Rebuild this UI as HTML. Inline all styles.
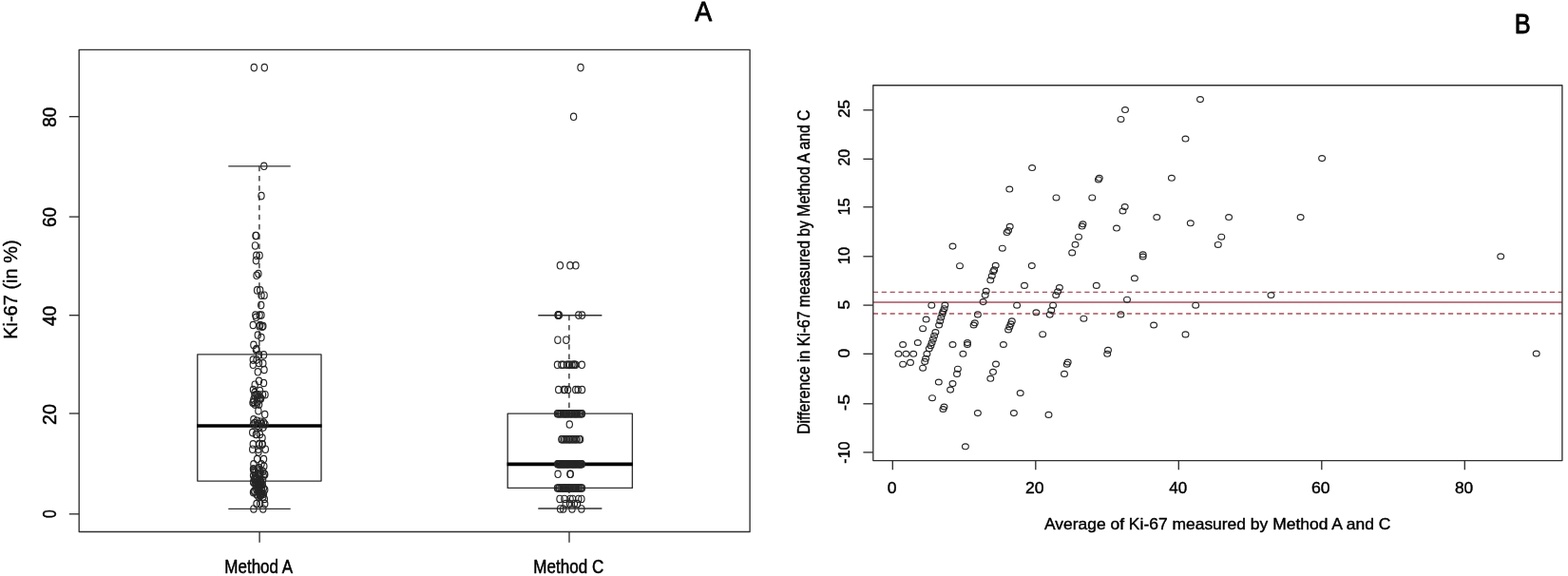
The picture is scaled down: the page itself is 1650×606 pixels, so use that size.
<!DOCTYPE html>
<html lang="en">
<head>
<meta charset="utf-8">
<title>Ki-67 Method A vs Method C</title>
<style>
html,body{margin:0;padding:0;background:#fff;}
body{width:1650px;height:606px;overflow:hidden;}
svg{display:block;font-family:"Liberation Sans",Arial,Helvetica,sans-serif;}
</style>
</head>
<body>
<svg width="1650" height="606" viewBox="0 0 1650 606">
<rect x="0" y="0" width="1650" height="606" fill="#ffffff"/>
<g id="plotA">
<rect x="83.20" y="52.30" width="705.90" height="507.20" fill="none" stroke="#303030" stroke-width="1.35" stroke-linejoin="round"/>
<line x1="72.80" y1="540.80" x2="83.20" y2="540.80" stroke="#303030" stroke-width="1.35" stroke-linecap="butt"/>
<text transform="translate(58.90,540.60) rotate(-90) scale(0.7543,1)" x="-5.80" y="0" font-size="20.71" fill="#000" stroke="#000" stroke-width="0.5" stroke-linejoin="round">0</text>
<line x1="72.80" y1="435.00" x2="83.20" y2="435.00" stroke="#303030" stroke-width="1.35" stroke-linecap="butt"/>
<text transform="translate(58.90,435.75) rotate(-90) scale(0.9466,1)" x="-11.81" y="0" font-size="20.71" fill="#000" stroke="#000" stroke-width="0.5" stroke-linejoin="round">20</text>
<line x1="72.80" y1="331.70" x2="83.20" y2="331.70" stroke="#303030" stroke-width="1.35" stroke-linecap="butt"/>
<text transform="translate(58.90,332.60) rotate(-90) scale(0.9245,1)" x="-11.39" y="0" font-size="20.71" fill="#000" stroke="#000" stroke-width="0.5" stroke-linejoin="round">40</text>
<line x1="72.80" y1="228.10" x2="83.20" y2="228.10" stroke="#303030" stroke-width="1.35" stroke-linecap="butt"/>
<text transform="translate(58.90,228.20) rotate(-90) scale(0.9087,1)" x="-11.81" y="0" font-size="20.71" fill="#000" stroke="#000" stroke-width="0.5" stroke-linejoin="round">60</text>
<line x1="72.80" y1="122.70" x2="83.20" y2="122.70" stroke="#303030" stroke-width="1.35" stroke-linecap="butt"/>
<text transform="translate(58.90,123.10) rotate(-90) scale(0.9145,1)" x="-11.60" y="0" font-size="20.71" fill="#000" stroke="#000" stroke-width="0.5" stroke-linejoin="round">80</text>
<text transform="translate(18.40,304.40) rotate(-90) scale(0.9879,1)" x="-53.15" y="0" font-size="20.29" fill="#000" stroke="#000" stroke-width="0.4" stroke-linejoin="round">Ki-67 (in %)</text>
<line x1="273.10" y1="559.50" x2="273.10" y2="570.70" stroke="#303030" stroke-width="1.35" stroke-linecap="butt"/>
<text transform="translate(272.90,603.20) scale(0.8701,1)" x="-42.08" y="0" font-size="19.57" fill="#000" stroke="#000" stroke-width="0.5" stroke-linejoin="round">Method A</text>
<line x1="599.00" y1="559.50" x2="599.00" y2="570.70" stroke="#303030" stroke-width="1.35" stroke-linecap="butt"/>
<text transform="translate(598.60,603.20) scale(0.8730,1)" x="-42.86" y="0" font-size="19.57" fill="#000" stroke="#000" stroke-width="0.5" stroke-linejoin="round">Method C</text>
<text transform="translate(740.10,22.20) scale(0.8939,1)" x="-9.90" y="0" font-size="30.00" fill="#000" stroke="#000" stroke-width="0.9" stroke-linejoin="round">A</text>
<line x1="272.90" y1="174.85" x2="272.90" y2="372.90" stroke="#303030" stroke-width="1.35" stroke-dasharray="5.5 4.7" stroke-linecap="butt"/>
<line x1="272.90" y1="506.10" x2="272.90" y2="535.30" stroke="#303030" stroke-width="1.35" stroke-dasharray="5.5 4.7" stroke-linecap="butt"/>
<line x1="240.30" y1="174.85" x2="305.70" y2="174.85" stroke="#303030" stroke-width="1.35" stroke-linecap="butt"/>
<line x1="240.30" y1="535.30" x2="305.70" y2="535.30" stroke="#303030" stroke-width="1.35" stroke-linecap="butt"/>
<rect x="207.80" y="372.90" width="130.20" height="133.20" fill="none" stroke="#303030" stroke-width="1.35" stroke-linejoin="round"/>
<line x1="207.20" y1="448.00" x2="338.60" y2="448.00" stroke="#000" stroke-width="3.6" stroke-linecap="butt"/>
<line x1="598.90" y1="331.70" x2="598.90" y2="435.10" stroke="#303030" stroke-width="1.35" stroke-dasharray="5.5 4.7" stroke-linecap="butt"/>
<line x1="598.90" y1="513.40" x2="598.90" y2="535.00" stroke="#303030" stroke-width="1.35" stroke-dasharray="5.5 4.7" stroke-linecap="butt"/>
<line x1="566.30" y1="331.70" x2="633.40" y2="331.70" stroke="#303030" stroke-width="1.35" stroke-linecap="butt"/>
<line x1="566.30" y1="535.00" x2="633.40" y2="535.00" stroke="#303030" stroke-width="1.35" stroke-linecap="butt"/>
<rect x="534.20" y="435.10" width="131.20" height="78.30" fill="none" stroke="#303030" stroke-width="1.35" stroke-linejoin="round"/>
<line x1="533.60" y1="488.40" x2="666.00" y2="488.40" stroke="#000" stroke-width="3.6" stroke-linecap="butt"/>
<g fill="none" stroke="#262626" stroke-width="1.15">
<ellipse cx="267.3" cy="71.1" rx="3.15" ry="3.7"/>
<ellipse cx="278.3" cy="71.1" rx="3.15" ry="3.7"/>
<ellipse cx="277.8" cy="174.8" rx="3.15" ry="3.7"/>
<ellipse cx="275.0" cy="206.1" rx="3.15" ry="3.7"/>
<ellipse cx="269.0" cy="247.9" rx="3.15" ry="3.7"/>
<ellipse cx="269.6" cy="247.9" rx="3.15" ry="3.7"/>
<ellipse cx="268.5" cy="258.4" rx="3.15" ry="3.7"/>
<ellipse cx="269.8" cy="268.8" rx="3.15" ry="3.7"/>
<ellipse cx="273.1" cy="268.8" rx="3.15" ry="3.7"/>
<ellipse cx="269.4" cy="274.1" rx="3.15" ry="3.7"/>
<ellipse cx="271.9" cy="288.1" rx="3.15" ry="3.7"/>
<ellipse cx="270.0" cy="289.8" rx="3.15" ry="3.7"/>
<ellipse cx="270.6" cy="305.4" rx="3.15" ry="3.7"/>
<ellipse cx="273.7" cy="305.4" rx="3.15" ry="3.7"/>
<ellipse cx="275.0" cy="310.7" rx="3.15" ry="3.7"/>
<ellipse cx="278.1" cy="310.7" rx="3.15" ry="3.7"/>
<ellipse cx="274.7" cy="321.1" rx="3.15" ry="3.7"/>
<ellipse cx="268.8" cy="331.6" rx="3.15" ry="3.7"/>
<ellipse cx="273.1" cy="331.6" rx="3.15" ry="3.7"/>
<ellipse cx="275.0" cy="331.6" rx="3.15" ry="3.7"/>
<ellipse cx="269.5" cy="333.8" rx="3.15" ry="3.7"/>
<ellipse cx="266.3" cy="342.0" rx="3.15" ry="3.7"/>
<ellipse cx="273.7" cy="342.0" rx="3.15" ry="3.7"/>
<ellipse cx="276.8" cy="343.0" rx="3.15" ry="3.7"/>
<ellipse cx="273.0" cy="343.2" rx="3.15" ry="3.7"/>
<ellipse cx="276.0" cy="343.7" rx="3.15" ry="3.7"/>
<ellipse cx="271.3" cy="352.5" rx="3.15" ry="3.7"/>
<ellipse cx="275.0" cy="355.1" rx="3.15" ry="3.7"/>
<ellipse cx="266.9" cy="362.9" rx="3.15" ry="3.7"/>
<ellipse cx="270.0" cy="367.0" rx="3.15" ry="3.7"/>
<ellipse cx="269.4" cy="368.1" rx="3.15" ry="3.7"/>
<ellipse cx="277.5" cy="373.4" rx="3.15" ry="3.7"/>
<ellipse cx="272.5" cy="373.4" rx="3.15" ry="3.7"/>
<ellipse cx="270.0" cy="378.6" rx="3.15" ry="3.7"/>
<ellipse cx="266.3" cy="378.6" rx="3.15" ry="3.7"/>
<ellipse cx="272.5" cy="382.0" rx="3.15" ry="3.7"/>
<ellipse cx="276.8" cy="382.3" rx="3.15" ry="3.7"/>
<ellipse cx="266.3" cy="383.8" rx="3.15" ry="3.7"/>
<ellipse cx="278.0" cy="389.0" rx="3.15" ry="3.7"/>
<ellipse cx="271.3" cy="391.3" rx="3.15" ry="3.7"/>
<ellipse cx="272.5" cy="400.9" rx="3.15" ry="3.7"/>
<ellipse cx="277.5" cy="403.0" rx="3.15" ry="3.7"/>
<ellipse cx="268.2" cy="404.7" rx="3.15" ry="3.7"/>
<ellipse cx="266.5" cy="410.0" rx="3.15" ry="3.7"/>
<ellipse cx="273.5" cy="411.1" rx="3.15" ry="3.7"/>
<ellipse cx="268.0" cy="413.1" rx="3.15" ry="3.7"/>
<ellipse cx="272.0" cy="415.2" rx="3.15" ry="3.7"/>
<ellipse cx="276.5" cy="415.2" rx="3.15" ry="3.7"/>
<ellipse cx="279.0" cy="415.2" rx="3.15" ry="3.7"/>
<ellipse cx="270.0" cy="415.2" rx="3.15" ry="3.7"/>
<ellipse cx="270.2" cy="415.4" rx="3.15" ry="3.7"/>
<ellipse cx="268.0" cy="415.9" rx="3.15" ry="3.7"/>
<ellipse cx="271.0" cy="418.2" rx="3.15" ry="3.7"/>
<ellipse cx="274.0" cy="418.6" rx="3.15" ry="3.7"/>
<ellipse cx="274.5" cy="419.4" rx="3.15" ry="3.7"/>
<ellipse cx="266.9" cy="420.4" rx="3.15" ry="3.7"/>
<ellipse cx="273.0" cy="420.4" rx="3.15" ry="3.7"/>
<ellipse cx="270.8" cy="422.6" rx="3.15" ry="3.7"/>
<ellipse cx="266.8" cy="422.9" rx="3.15" ry="3.7"/>
<ellipse cx="266.0" cy="423.7" rx="3.15" ry="3.7"/>
<ellipse cx="270.5" cy="424.7" rx="3.15" ry="3.7"/>
<ellipse cx="268.2" cy="425.6" rx="3.15" ry="3.7"/>
<ellipse cx="272.6" cy="425.6" rx="3.15" ry="3.7"/>
<ellipse cx="271.9" cy="432.2" rx="3.15" ry="3.7"/>
<ellipse cx="278.7" cy="436.1" rx="3.15" ry="3.7"/>
<ellipse cx="266.9" cy="441.3" rx="3.15" ry="3.7"/>
<ellipse cx="270.5" cy="442.7" rx="3.15" ry="3.7"/>
<ellipse cx="274.4" cy="443.7" rx="3.15" ry="3.7"/>
<ellipse cx="277.5" cy="444.6" rx="3.15" ry="3.7"/>
<ellipse cx="268.0" cy="445.0" rx="3.15" ry="3.7"/>
<ellipse cx="272.0" cy="446.0" rx="3.15" ry="3.7"/>
<ellipse cx="275.5" cy="446.0" rx="3.15" ry="3.7"/>
<ellipse cx="279.0" cy="446.5" rx="3.15" ry="3.7"/>
<ellipse cx="266.5" cy="446.5" rx="3.15" ry="3.7"/>
<ellipse cx="270.8" cy="448.0" rx="3.15" ry="3.7"/>
<ellipse cx="273.0" cy="449.2" rx="3.15" ry="3.7"/>
<ellipse cx="277.0" cy="449.6" rx="3.15" ry="3.7"/>
<ellipse cx="265.7" cy="455.1" rx="3.15" ry="3.7"/>
<ellipse cx="270.0" cy="457.0" rx="3.15" ry="3.7"/>
<ellipse cx="269.4" cy="457.0" rx="3.15" ry="3.7"/>
<ellipse cx="273.5" cy="457.0" rx="3.15" ry="3.7"/>
<ellipse cx="276.0" cy="460.8" rx="3.15" ry="3.7"/>
<ellipse cx="266.3" cy="467.4" rx="3.15" ry="3.7"/>
<ellipse cx="272.5" cy="467.4" rx="3.15" ry="3.7"/>
<ellipse cx="276.2" cy="467.4" rx="3.15" ry="3.7"/>
<ellipse cx="272.9" cy="467.4" rx="3.15" ry="3.7"/>
<ellipse cx="276.0" cy="467.4" rx="3.15" ry="3.7"/>
<ellipse cx="279.3" cy="472.7" rx="3.15" ry="3.7"/>
<ellipse cx="271.9" cy="472.7" rx="3.15" ry="3.7"/>
<ellipse cx="265.7" cy="472.7" rx="3.15" ry="3.7"/>
<ellipse cx="272.0" cy="475.6" rx="3.15" ry="3.7"/>
<ellipse cx="270.6" cy="483.1" rx="3.15" ry="3.7"/>
<ellipse cx="277.5" cy="483.1" rx="3.15" ry="3.7"/>
<ellipse cx="266.9" cy="488.3" rx="3.15" ry="3.7"/>
<ellipse cx="275.0" cy="488.3" rx="3.15" ry="3.7"/>
<ellipse cx="277.8" cy="490.5" rx="3.15" ry="3.7"/>
<ellipse cx="272.6" cy="492.1" rx="3.15" ry="3.7"/>
<ellipse cx="266.5" cy="493.6" rx="3.15" ry="3.7"/>
<ellipse cx="271.6" cy="493.6" rx="3.15" ry="3.7"/>
<ellipse cx="266.9" cy="493.6" rx="3.15" ry="3.7"/>
<ellipse cx="267.2" cy="495.2" rx="3.15" ry="3.7"/>
<ellipse cx="271.5" cy="495.6" rx="3.15" ry="3.7"/>
<ellipse cx="276.7" cy="496.1" rx="3.15" ry="3.7"/>
<ellipse cx="267.6" cy="496.6" rx="3.15" ry="3.7"/>
<ellipse cx="268.9" cy="497.1" rx="3.15" ry="3.7"/>
<ellipse cx="274.2" cy="497.2" rx="3.15" ry="3.7"/>
<ellipse cx="278.3" cy="498.8" rx="3.15" ry="3.7"/>
<ellipse cx="273.5" cy="498.8" rx="3.15" ry="3.7"/>
<ellipse cx="271.2" cy="498.8" rx="3.15" ry="3.7"/>
<ellipse cx="278.7" cy="499.3" rx="3.15" ry="3.7"/>
<ellipse cx="266.6" cy="500.2" rx="3.15" ry="3.7"/>
<ellipse cx="277.2" cy="500.7" rx="3.15" ry="3.7"/>
<ellipse cx="269.8" cy="503.1" rx="3.15" ry="3.7"/>
<ellipse cx="267.9" cy="503.3" rx="3.15" ry="3.7"/>
<ellipse cx="267.5" cy="504.0" rx="3.15" ry="3.7"/>
<ellipse cx="270.0" cy="504.4" rx="3.15" ry="3.7"/>
<ellipse cx="276.6" cy="505.0" rx="3.15" ry="3.7"/>
<ellipse cx="268.3" cy="505.0" rx="3.15" ry="3.7"/>
<ellipse cx="273.6" cy="505.4" rx="3.15" ry="3.7"/>
<ellipse cx="274.3" cy="506.1" rx="3.15" ry="3.7"/>
<ellipse cx="270.8" cy="506.7" rx="3.15" ry="3.7"/>
<ellipse cx="273.1" cy="506.9" rx="3.15" ry="3.7"/>
<ellipse cx="266.8" cy="506.9" rx="3.15" ry="3.7"/>
<ellipse cx="266.8" cy="507.7" rx="3.15" ry="3.7"/>
<ellipse cx="268.7" cy="507.7" rx="3.15" ry="3.7"/>
<ellipse cx="274.8" cy="508.1" rx="3.15" ry="3.7"/>
<ellipse cx="271.6" cy="508.3" rx="3.15" ry="3.7"/>
<ellipse cx="270.1" cy="509.2" rx="3.15" ry="3.7"/>
<ellipse cx="273.6" cy="509.4" rx="3.15" ry="3.7"/>
<ellipse cx="271.9" cy="509.4" rx="3.15" ry="3.7"/>
<ellipse cx="269.9" cy="509.7" rx="3.15" ry="3.7"/>
<ellipse cx="276.3" cy="510.0" rx="3.15" ry="3.7"/>
<ellipse cx="275.1" cy="510.3" rx="3.15" ry="3.7"/>
<ellipse cx="269.2" cy="511.6" rx="3.15" ry="3.7"/>
<ellipse cx="273.5" cy="511.9" rx="3.15" ry="3.7"/>
<ellipse cx="272.8" cy="511.9" rx="3.15" ry="3.7"/>
<ellipse cx="277.4" cy="513.7" rx="3.15" ry="3.7"/>
<ellipse cx="275.5" cy="514.5" rx="3.15" ry="3.7"/>
<ellipse cx="269.7" cy="514.5" rx="3.15" ry="3.7"/>
<ellipse cx="278.7" cy="515.3" rx="3.15" ry="3.7"/>
<ellipse cx="267.5" cy="516.7" rx="3.15" ry="3.7"/>
<ellipse cx="271.4" cy="516.8" rx="3.15" ry="3.7"/>
<ellipse cx="275.8" cy="516.9" rx="3.15" ry="3.7"/>
<ellipse cx="268.0" cy="517.2" rx="3.15" ry="3.7"/>
<ellipse cx="272.4" cy="517.6" rx="3.15" ry="3.7"/>
<ellipse cx="266.5" cy="518.1" rx="3.15" ry="3.7"/>
<ellipse cx="274.7" cy="518.8" rx="3.15" ry="3.7"/>
<ellipse cx="275.9" cy="519.3" rx="3.15" ry="3.7"/>
<ellipse cx="273.4" cy="519.4" rx="3.15" ry="3.7"/>
<ellipse cx="277.4" cy="519.7" rx="3.15" ry="3.7"/>
<ellipse cx="270.1" cy="520.2" rx="3.15" ry="3.7"/>
<ellipse cx="275.0" cy="520.7" rx="3.15" ry="3.7"/>
<ellipse cx="273.7" cy="521.0" rx="3.15" ry="3.7"/>
<ellipse cx="273.5" cy="521.4" rx="3.15" ry="3.7"/>
<ellipse cx="271.9" cy="522.2" rx="3.15" ry="3.7"/>
<ellipse cx="276.9" cy="522.5" rx="3.15" ry="3.7"/>
<ellipse cx="278.3" cy="524.9" rx="3.15" ry="3.7"/>
<ellipse cx="270.0" cy="530.1" rx="3.15" ry="3.7"/>
<ellipse cx="273.7" cy="530.1" rx="3.15" ry="3.7"/>
<ellipse cx="278.7" cy="530.1" rx="3.15" ry="3.7"/>
<ellipse cx="266.9" cy="535.4" rx="3.15" ry="3.7"/>
<ellipse cx="276.8" cy="535.4" rx="3.15" ry="3.7"/>
<ellipse cx="589.6" cy="535.4" rx="3.15" ry="3.7"/>
<ellipse cx="592.7" cy="535.4" rx="3.15" ry="3.7"/>
<ellipse cx="602.0" cy="535.4" rx="3.15" ry="3.7"/>
<ellipse cx="611.9" cy="535.4" rx="3.15" ry="3.7"/>
<ellipse cx="595.2" cy="530.1" rx="3.15" ry="3.7"/>
<ellipse cx="599.5" cy="530.1" rx="3.15" ry="3.7"/>
<ellipse cx="604.5" cy="530.1" rx="3.15" ry="3.7"/>
<ellipse cx="607.5" cy="530.1" rx="3.15" ry="3.7"/>
<ellipse cx="589.0" cy="524.9" rx="3.15" ry="3.7"/>
<ellipse cx="593.9" cy="524.9" rx="3.15" ry="3.7"/>
<ellipse cx="600.1" cy="524.9" rx="3.15" ry="3.7"/>
<ellipse cx="602.6" cy="524.9" rx="3.15" ry="3.7"/>
<ellipse cx="608.8" cy="524.9" rx="3.15" ry="3.7"/>
<ellipse cx="611.9" cy="524.9" rx="3.15" ry="3.7"/>
<ellipse cx="586.5" cy="513.4" rx="3.15" ry="3.7"/>
<ellipse cx="587.7" cy="513.4" rx="3.15" ry="3.7"/>
<ellipse cx="588.5" cy="513.4" rx="3.15" ry="3.7"/>
<ellipse cx="590.0" cy="513.4" rx="3.15" ry="3.7"/>
<ellipse cx="591.1" cy="513.4" rx="3.15" ry="3.7"/>
<ellipse cx="592.5" cy="513.4" rx="3.15" ry="3.7"/>
<ellipse cx="593.5" cy="513.4" rx="3.15" ry="3.7"/>
<ellipse cx="594.3" cy="513.4" rx="3.15" ry="3.7"/>
<ellipse cx="595.5" cy="513.4" rx="3.15" ry="3.7"/>
<ellipse cx="596.8" cy="513.4" rx="3.15" ry="3.7"/>
<ellipse cx="597.5" cy="513.4" rx="3.15" ry="3.7"/>
<ellipse cx="598.9" cy="513.4" rx="3.15" ry="3.7"/>
<ellipse cx="599.8" cy="513.4" rx="3.15" ry="3.7"/>
<ellipse cx="600.9" cy="513.4" rx="3.15" ry="3.7"/>
<ellipse cx="602.0" cy="513.4" rx="3.15" ry="3.7"/>
<ellipse cx="603.6" cy="513.4" rx="3.15" ry="3.7"/>
<ellipse cx="604.3" cy="513.4" rx="3.15" ry="3.7"/>
<ellipse cx="605.5" cy="513.4" rx="3.15" ry="3.7"/>
<ellipse cx="606.8" cy="513.4" rx="3.15" ry="3.7"/>
<ellipse cx="608.2" cy="513.4" rx="3.15" ry="3.7"/>
<ellipse cx="608.8" cy="513.4" rx="3.15" ry="3.7"/>
<ellipse cx="610.2" cy="513.4" rx="3.15" ry="3.7"/>
<ellipse cx="611.4" cy="513.4" rx="3.15" ry="3.7"/>
<ellipse cx="612.5" cy="513.4" rx="3.15" ry="3.7"/>
<ellipse cx="587.1" cy="498.8" rx="3.15" ry="3.7"/>
<ellipse cx="599.9" cy="498.8" rx="3.15" ry="3.7"/>
<ellipse cx="600.3" cy="498.8" rx="3.15" ry="3.7"/>
<ellipse cx="586.7" cy="488.3" rx="3.15" ry="3.7"/>
<ellipse cx="587.6" cy="488.3" rx="3.15" ry="3.7"/>
<ellipse cx="588.1" cy="488.3" rx="3.15" ry="3.7"/>
<ellipse cx="589.1" cy="488.3" rx="3.15" ry="3.7"/>
<ellipse cx="589.9" cy="488.3" rx="3.15" ry="3.7"/>
<ellipse cx="591.0" cy="488.3" rx="3.15" ry="3.7"/>
<ellipse cx="591.9" cy="488.3" rx="3.15" ry="3.7"/>
<ellipse cx="592.4" cy="488.3" rx="3.15" ry="3.7"/>
<ellipse cx="593.3" cy="488.3" rx="3.15" ry="3.7"/>
<ellipse cx="594.2" cy="488.3" rx="3.15" ry="3.7"/>
<ellipse cx="595.0" cy="488.3" rx="3.15" ry="3.7"/>
<ellipse cx="596.0" cy="488.3" rx="3.15" ry="3.7"/>
<ellipse cx="596.9" cy="488.3" rx="3.15" ry="3.7"/>
<ellipse cx="597.6" cy="488.3" rx="3.15" ry="3.7"/>
<ellipse cx="598.4" cy="488.3" rx="3.15" ry="3.7"/>
<ellipse cx="599.5" cy="488.3" rx="3.15" ry="3.7"/>
<ellipse cx="600.3" cy="488.3" rx="3.15" ry="3.7"/>
<ellipse cx="601.3" cy="488.3" rx="3.15" ry="3.7"/>
<ellipse cx="602.3" cy="488.3" rx="3.15" ry="3.7"/>
<ellipse cx="603.1" cy="488.3" rx="3.15" ry="3.7"/>
<ellipse cx="603.8" cy="488.3" rx="3.15" ry="3.7"/>
<ellipse cx="604.8" cy="488.3" rx="3.15" ry="3.7"/>
<ellipse cx="605.7" cy="488.3" rx="3.15" ry="3.7"/>
<ellipse cx="606.2" cy="488.3" rx="3.15" ry="3.7"/>
<ellipse cx="607.5" cy="488.3" rx="3.15" ry="3.7"/>
<ellipse cx="608.3" cy="488.3" rx="3.15" ry="3.7"/>
<ellipse cx="609.2" cy="488.3" rx="3.15" ry="3.7"/>
<ellipse cx="610.1" cy="488.3" rx="3.15" ry="3.7"/>
<ellipse cx="610.7" cy="488.3" rx="3.15" ry="3.7"/>
<ellipse cx="611.6" cy="488.3" rx="3.15" ry="3.7"/>
<ellipse cx="612.3" cy="488.3" rx="3.15" ry="3.7"/>
<ellipse cx="590.9" cy="462.2" rx="3.15" ry="3.7"/>
<ellipse cx="591.9" cy="462.2" rx="3.15" ry="3.7"/>
<ellipse cx="593.5" cy="462.2" rx="3.15" ry="3.7"/>
<ellipse cx="595.1" cy="462.2" rx="3.15" ry="3.7"/>
<ellipse cx="596.6" cy="462.2" rx="3.15" ry="3.7"/>
<ellipse cx="598.3" cy="462.2" rx="3.15" ry="3.7"/>
<ellipse cx="599.5" cy="462.2" rx="3.15" ry="3.7"/>
<ellipse cx="601.0" cy="462.2" rx="3.15" ry="3.7"/>
<ellipse cx="602.7" cy="462.2" rx="3.15" ry="3.7"/>
<ellipse cx="604.1" cy="462.2" rx="3.15" ry="3.7"/>
<ellipse cx="605.9" cy="462.2" rx="3.15" ry="3.7"/>
<ellipse cx="607.1" cy="462.2" rx="3.15" ry="3.7"/>
<ellipse cx="609.4" cy="462.2" rx="3.15" ry="3.7"/>
<ellipse cx="610.6" cy="462.2" rx="3.15" ry="3.7"/>
<ellipse cx="599.3" cy="446.5" rx="3.15" ry="3.7"/>
<ellipse cx="586.5" cy="435.2" rx="3.15" ry="3.7"/>
<ellipse cx="587.4" cy="435.2" rx="3.15" ry="3.7"/>
<ellipse cx="588.6" cy="435.2" rx="3.15" ry="3.7"/>
<ellipse cx="589.7" cy="435.2" rx="3.15" ry="3.7"/>
<ellipse cx="590.6" cy="435.2" rx="3.15" ry="3.7"/>
<ellipse cx="592.1" cy="435.2" rx="3.15" ry="3.7"/>
<ellipse cx="593.3" cy="435.2" rx="3.15" ry="3.7"/>
<ellipse cx="594.1" cy="435.2" rx="3.15" ry="3.7"/>
<ellipse cx="595.2" cy="435.2" rx="3.15" ry="3.7"/>
<ellipse cx="596.0" cy="435.2" rx="3.15" ry="3.7"/>
<ellipse cx="597.1" cy="435.2" rx="3.15" ry="3.7"/>
<ellipse cx="598.3" cy="435.2" rx="3.15" ry="3.7"/>
<ellipse cx="599.3" cy="435.2" rx="3.15" ry="3.7"/>
<ellipse cx="600.8" cy="435.2" rx="3.15" ry="3.7"/>
<ellipse cx="601.4" cy="435.2" rx="3.15" ry="3.7"/>
<ellipse cx="602.4" cy="435.2" rx="3.15" ry="3.7"/>
<ellipse cx="604.1" cy="435.2" rx="3.15" ry="3.7"/>
<ellipse cx="604.9" cy="435.2" rx="3.15" ry="3.7"/>
<ellipse cx="605.8" cy="435.2" rx="3.15" ry="3.7"/>
<ellipse cx="607.1" cy="435.2" rx="3.15" ry="3.7"/>
<ellipse cx="607.9" cy="435.2" rx="3.15" ry="3.7"/>
<ellipse cx="609.3" cy="435.2" rx="3.15" ry="3.7"/>
<ellipse cx="610.6" cy="435.2" rx="3.15" ry="3.7"/>
<ellipse cx="611.7" cy="435.2" rx="3.15" ry="3.7"/>
<ellipse cx="612.5" cy="435.2" rx="3.15" ry="3.7"/>
<ellipse cx="587.7" cy="410.0" rx="3.15" ry="3.7"/>
<ellipse cx="593.3" cy="410.0" rx="3.15" ry="3.7"/>
<ellipse cx="597.6" cy="410.0" rx="3.15" ry="3.7"/>
<ellipse cx="605.7" cy="410.0" rx="3.15" ry="3.7"/>
<ellipse cx="608.2" cy="410.0" rx="3.15" ry="3.7"/>
<ellipse cx="612.5" cy="410.0" rx="3.15" ry="3.7"/>
<ellipse cx="594.5" cy="410.0" rx="3.15" ry="3.7"/>
<ellipse cx="586.5" cy="383.8" rx="3.15" ry="3.7"/>
<ellipse cx="590.8" cy="383.8" rx="3.15" ry="3.7"/>
<ellipse cx="592.7" cy="383.8" rx="3.15" ry="3.7"/>
<ellipse cx="596.4" cy="383.8" rx="3.15" ry="3.7"/>
<ellipse cx="598.3" cy="383.8" rx="3.15" ry="3.7"/>
<ellipse cx="602.0" cy="383.8" rx="3.15" ry="3.7"/>
<ellipse cx="603.8" cy="383.8" rx="3.15" ry="3.7"/>
<ellipse cx="605.7" cy="383.8" rx="3.15" ry="3.7"/>
<ellipse cx="612.3" cy="383.8" rx="3.15" ry="3.7"/>
<ellipse cx="599.5" cy="383.8" rx="3.15" ry="3.7"/>
<ellipse cx="604.5" cy="383.8" rx="3.15" ry="3.7"/>
<ellipse cx="586.9" cy="357.7" rx="3.15" ry="3.7"/>
<ellipse cx="595.8" cy="357.7" rx="3.15" ry="3.7"/>
<ellipse cx="587.1" cy="331.6" rx="3.15" ry="3.7"/>
<ellipse cx="587.6" cy="331.6" rx="3.15" ry="3.7"/>
<ellipse cx="588.4" cy="331.6" rx="3.15" ry="3.7"/>
<ellipse cx="608.8" cy="331.6" rx="3.15" ry="3.7"/>
<ellipse cx="612.5" cy="331.6" rx="3.15" ry="3.7"/>
<ellipse cx="587.3" cy="331.6" rx="3.15" ry="3.7"/>
<ellipse cx="589.4" cy="279.3" rx="3.15" ry="3.7"/>
<ellipse cx="599.9" cy="279.3" rx="3.15" ry="3.7"/>
<ellipse cx="605.9" cy="279.3" rx="3.15" ry="3.7"/>
<ellipse cx="603.6" cy="122.8" rx="3.15" ry="3.7"/>
<ellipse cx="611.0" cy="71.1" rx="3.15" ry="3.7"/>
</g>
</g>
<g id="plotB">
<line x1="918.80" y1="318.00" x2="1643.90" y2="318.00" stroke="#a5525f" stroke-width="1.3" stroke-linecap="butt"/>
<line x1="918.80" y1="307.30" x2="1643.90" y2="307.30" stroke="#a5525f" stroke-width="1.3" stroke-dasharray="5.2 3.7" stroke-linecap="butt"/>
<line x1="918.80" y1="330.00" x2="1643.90" y2="330.00" stroke="#a5525f" stroke-width="1.3" stroke-dasharray="5.2 3.7" stroke-linecap="butt"/>
<rect x="918.80" y="89.70" width="725.10" height="394.90" fill="none" stroke="#303030" stroke-width="1.35" stroke-linejoin="round"/>
<line x1="939.30" y1="484.60" x2="939.30" y2="494.20" stroke="#303030" stroke-width="1.35" stroke-linecap="butt"/>
<text transform="translate(938.60,518.60) scale(1.0841,1)" x="-4.52" y="0" font-size="16.14" fill="#000" stroke="#000" stroke-width="0.4" stroke-linejoin="round">0</text>
<line x1="1089.80" y1="484.60" x2="1089.80" y2="494.20" stroke="#303030" stroke-width="1.35" stroke-linecap="butt"/>
<text transform="translate(1089.10,518.60) scale(1.0932,1)" x="-9.20" y="0" font-size="16.14" fill="#000" stroke="#000" stroke-width="0.4" stroke-linejoin="round">20</text>
<line x1="1240.30" y1="484.60" x2="1240.30" y2="494.20" stroke="#303030" stroke-width="1.35" stroke-linecap="butt"/>
<text transform="translate(1239.60,518.60) scale(1.0519,1)" x="-8.88" y="0" font-size="16.14" fill="#000" stroke="#000" stroke-width="0.4" stroke-linejoin="round">40</text>
<line x1="1390.80" y1="484.60" x2="1390.80" y2="494.20" stroke="#303030" stroke-width="1.35" stroke-linecap="butt"/>
<text transform="translate(1390.10,518.60) scale(1.0932,1)" x="-9.20" y="0" font-size="16.14" fill="#000" stroke="#000" stroke-width="0.4" stroke-linejoin="round">60</text>
<line x1="1541.30" y1="484.60" x2="1541.30" y2="494.20" stroke="#303030" stroke-width="1.35" stroke-linecap="butt"/>
<text transform="translate(1540.60,518.60) scale(1.0722,1)" x="-9.04" y="0" font-size="16.14" fill="#000" stroke="#000" stroke-width="0.4" stroke-linejoin="round">80</text>
<line x1="908.40" y1="475.90" x2="918.80" y2="475.90" stroke="#303030" stroke-width="1.35" stroke-linecap="butt"/>
<text transform="translate(893.70,476.10) rotate(-90) scale(0.9802,1)" x="-11.83" y="0" font-size="16.43" fill="#000" stroke="#000" stroke-width="0.4" stroke-linejoin="round">-10</text>
<line x1="908.40" y1="424.80" x2="918.80" y2="424.80" stroke="#303030" stroke-width="1.35" stroke-linecap="butt"/>
<text transform="translate(893.70,423.60) rotate(-90) scale(1.1870,1)" x="-7.23" y="0" font-size="16.43" fill="#000" stroke="#000" stroke-width="0.4" stroke-linejoin="round">-5</text>
<line x1="908.40" y1="372.30" x2="918.80" y2="372.30" stroke="#303030" stroke-width="1.35" stroke-linecap="butt"/>
<text transform="translate(893.70,371.60) rotate(-90) scale(1.0652,1)" x="-4.60" y="0" font-size="16.43" fill="#000" stroke="#000" stroke-width="0.4" stroke-linejoin="round">0</text>
<line x1="908.40" y1="321.10" x2="918.80" y2="321.10" stroke="#303030" stroke-width="1.35" stroke-linecap="butt"/>
<text transform="translate(893.70,320.50) rotate(-90) scale(1.0652,1)" x="-4.60" y="0" font-size="16.43" fill="#000" stroke="#000" stroke-width="0.4" stroke-linejoin="round">5</text>
<line x1="908.40" y1="269.80" x2="918.80" y2="269.80" stroke="#303030" stroke-width="1.35" stroke-linecap="butt"/>
<text transform="translate(893.70,268.70) rotate(-90) scale(1.0104,1)" x="-9.53" y="0" font-size="16.43" fill="#000" stroke="#000" stroke-width="0.4" stroke-linejoin="round">10</text>
<line x1="908.40" y1="217.80" x2="918.80" y2="217.80" stroke="#303030" stroke-width="1.35" stroke-linecap="butt"/>
<text transform="translate(893.70,217.20) rotate(-90) scale(1.0062,1)" x="-9.36" y="0" font-size="16.43" fill="#000" stroke="#000" stroke-width="0.4" stroke-linejoin="round">15</text>
<line x1="908.40" y1="167.30" x2="918.80" y2="167.30" stroke="#303030" stroke-width="1.35" stroke-linecap="butt"/>
<text transform="translate(893.70,165.50) rotate(-90) scale(0.9668,1)" x="-9.36" y="0" font-size="16.43" fill="#000" stroke="#000" stroke-width="0.4" stroke-linejoin="round">20</text>
<line x1="908.40" y1="115.80" x2="918.80" y2="115.80" stroke="#303030" stroke-width="1.35" stroke-linecap="butt"/>
<text transform="translate(893.70,114.40) rotate(-90) scale(1.0470,1)" x="-9.20" y="0" font-size="16.43" fill="#000" stroke="#000" stroke-width="0.4" stroke-linejoin="round">25</text>
<text transform="translate(852.10,285.70) rotate(-90) scale(0.9013,1)" x="-189.88" y="0" font-size="17.50" fill="#000" stroke="#000" stroke-width="0.45" stroke-linejoin="round">Difference in Ki-67 measured by Method A and C</text>
<text transform="translate(1281.00,557.10) scale(1.0823,1)" x="-168.21" y="0" font-size="16.14" fill="#000" stroke="#000" stroke-width="0.4" stroke-linejoin="round">Average of Ki-67 measured by Method A and C</text>
<text transform="translate(1602.60,34.90) scale(0.8457,1)" x="-10.50" y="0" font-size="30.00" fill="#000" stroke="#000" stroke-width="0.9" stroke-linejoin="round">B</text>
<g fill="none" stroke="#262626" stroke-width="1.15">
<ellipse cx="1263.0" cy="104.6" rx="3.4" ry="2.95"/>
<ellipse cx="1184.0" cy="115.5" rx="3.4" ry="2.95"/>
<ellipse cx="1179.5" cy="125.4" rx="3.4" ry="2.95"/>
<ellipse cx="1247.5" cy="146.0" rx="3.4" ry="2.95"/>
<ellipse cx="1086.1" cy="176.5" rx="3.4" ry="2.95"/>
<ellipse cx="1062.3" cy="199.0" rx="3.4" ry="2.95"/>
<ellipse cx="1111.5" cy="207.9" rx="3.4" ry="2.95"/>
<ellipse cx="1062.7" cy="238.3" rx="3.4" ry="2.95"/>
<ellipse cx="1156.8" cy="187.3" rx="3.4" ry="2.95"/>
<ellipse cx="1155.9" cy="188.9" rx="3.4" ry="2.95"/>
<ellipse cx="1232.9" cy="187.3" rx="3.4" ry="2.95"/>
<ellipse cx="1149.3" cy="207.9" rx="3.4" ry="2.95"/>
<ellipse cx="1183.7" cy="217.6" rx="3.4" ry="2.95"/>
<ellipse cx="1181.5" cy="221.9" rx="3.4" ry="2.95"/>
<ellipse cx="1217.3" cy="228.5" rx="3.4" ry="2.95"/>
<ellipse cx="1252.8" cy="234.8" rx="3.4" ry="2.95"/>
<ellipse cx="1293.1" cy="228.5" rx="3.4" ry="2.95"/>
<ellipse cx="1139.5" cy="235.8" rx="3.4" ry="2.95"/>
<ellipse cx="1138.6" cy="238.0" rx="3.4" ry="2.95"/>
<ellipse cx="1175.0" cy="240.0" rx="3.4" ry="2.95"/>
<ellipse cx="1061.1" cy="242.4" rx="3.4" ry="2.95"/>
<ellipse cx="1059.6" cy="244.5" rx="3.4" ry="2.95"/>
<ellipse cx="1002.5" cy="259.1" rx="3.4" ry="2.95"/>
<ellipse cx="1054.8" cy="261.2" rx="3.4" ry="2.95"/>
<ellipse cx="1010.0" cy="279.7" rx="3.4" ry="2.95"/>
<ellipse cx="1047.7" cy="279.3" rx="3.4" ry="2.95"/>
<ellipse cx="1046.2" cy="283.9" rx="3.4" ry="2.95"/>
<ellipse cx="1045.2" cy="285.7" rx="3.4" ry="2.95"/>
<ellipse cx="1043.8" cy="290.3" rx="3.4" ry="2.95"/>
<ellipse cx="1042.3" cy="294.8" rx="3.4" ry="2.95"/>
<ellipse cx="1085.8" cy="279.6" rx="3.4" ry="2.95"/>
<ellipse cx="1078.0" cy="300.4" rx="3.4" ry="2.95"/>
<ellipse cx="1114.9" cy="302.5" rx="3.4" ry="2.95"/>
<ellipse cx="1037.7" cy="306.3" rx="3.4" ry="2.95"/>
<ellipse cx="1135.0" cy="249.2" rx="3.4" ry="2.95"/>
<ellipse cx="1131.5" cy="257.3" rx="3.4" ry="2.95"/>
<ellipse cx="1128.2" cy="265.9" rx="3.4" ry="2.95"/>
<ellipse cx="1285.3" cy="249.2" rx="3.4" ry="2.95"/>
<ellipse cx="1281.8" cy="257.4" rx="3.4" ry="2.95"/>
<ellipse cx="1202.7" cy="267.8" rx="3.4" ry="2.95"/>
<ellipse cx="1202.7" cy="270.0" rx="3.4" ry="2.95"/>
<ellipse cx="1193.9" cy="292.8" rx="3.4" ry="2.95"/>
<ellipse cx="1153.8" cy="300.4" rx="3.4" ry="2.95"/>
<ellipse cx="1036.7" cy="310.5" rx="3.4" ry="2.95"/>
<ellipse cx="1113.1" cy="306.8" rx="3.4" ry="2.95"/>
<ellipse cx="1111.2" cy="310.5" rx="3.4" ry="2.95"/>
<ellipse cx="1034.6" cy="317.6" rx="3.4" ry="2.95"/>
<ellipse cx="980.3" cy="321.2" rx="3.4" ry="2.95"/>
<ellipse cx="994.4" cy="321.0" rx="3.4" ry="2.95"/>
<ellipse cx="1070.1" cy="321.2" rx="3.4" ry="2.95"/>
<ellipse cx="1108.1" cy="321.2" rx="3.4" ry="2.95"/>
<ellipse cx="1106.3" cy="326.6" rx="3.4" ry="2.95"/>
<ellipse cx="1104.7" cy="331.1" rx="3.4" ry="2.95"/>
<ellipse cx="1090.4" cy="328.8" rx="3.4" ry="2.95"/>
<ellipse cx="993.6" cy="324.7" rx="3.4" ry="2.95"/>
<ellipse cx="992.4" cy="327.8" rx="3.4" ry="2.95"/>
<ellipse cx="991.5" cy="330.3" rx="3.4" ry="2.95"/>
<ellipse cx="990.3" cy="334.0" rx="3.4" ry="2.95"/>
<ellipse cx="989.3" cy="337.7" rx="3.4" ry="2.95"/>
<ellipse cx="988.1" cy="342.0" rx="3.4" ry="2.95"/>
<ellipse cx="1028.9" cy="330.9" rx="3.4" ry="2.95"/>
<ellipse cx="974.6" cy="336.0" rx="3.4" ry="2.95"/>
<ellipse cx="1025.8" cy="339.8" rx="3.4" ry="2.95"/>
<ellipse cx="1024.6" cy="342.0" rx="3.4" ry="2.95"/>
<ellipse cx="1064.8" cy="337.9" rx="3.4" ry="2.95"/>
<ellipse cx="1063.6" cy="340.8" rx="3.4" ry="2.95"/>
<ellipse cx="1062.3" cy="343.9" rx="3.4" ry="2.95"/>
<ellipse cx="1061.1" cy="347.0" rx="3.4" ry="2.95"/>
<ellipse cx="971.1" cy="345.7" rx="3.4" ry="2.95"/>
<ellipse cx="1097.2" cy="351.7" rx="3.4" ry="2.95"/>
<ellipse cx="984.4" cy="349.5" rx="3.4" ry="2.95"/>
<ellipse cx="983.1" cy="353.2" rx="3.4" ry="2.95"/>
<ellipse cx="981.9" cy="356.9" rx="3.4" ry="2.95"/>
<ellipse cx="980.6" cy="360.6" rx="3.4" ry="2.95"/>
<ellipse cx="979.4" cy="363.7" rx="3.4" ry="2.95"/>
<ellipse cx="977.8" cy="366.8" rx="3.4" ry="2.95"/>
<ellipse cx="965.8" cy="360.5" rx="3.4" ry="2.95"/>
<ellipse cx="950.1" cy="362.5" rx="3.4" ry="2.95"/>
<ellipse cx="1002.5" cy="362.5" rx="3.4" ry="2.95"/>
<ellipse cx="1018.0" cy="360.6" rx="3.4" ry="2.95"/>
<ellipse cx="1018.0" cy="362.5" rx="3.4" ry="2.95"/>
<ellipse cx="1055.9" cy="362.5" rx="3.4" ry="2.95"/>
<ellipse cx="1186.0" cy="315.2" rx="3.4" ry="2.95"/>
<ellipse cx="1258.2" cy="321.2" rx="3.4" ry="2.95"/>
<ellipse cx="1179.4" cy="330.9" rx="3.4" ry="2.95"/>
<ellipse cx="1140.4" cy="335.2" rx="3.4" ry="2.95"/>
<ellipse cx="1214.1" cy="342.0" rx="3.4" ry="2.95"/>
<ellipse cx="1247.5" cy="351.9" rx="3.4" ry="2.95"/>
<ellipse cx="1166.0" cy="368.4" rx="3.4" ry="2.95"/>
<ellipse cx="975.4" cy="372.3" rx="3.4" ry="2.95"/>
<ellipse cx="974.1" cy="377.3" rx="3.4" ry="2.95"/>
<ellipse cx="973.2" cy="380.4" rx="3.4" ry="2.95"/>
<ellipse cx="971.1" cy="387.2" rx="3.4" ry="2.95"/>
<ellipse cx="945.4" cy="372.3" rx="3.4" ry="2.95"/>
<ellipse cx="953.4" cy="372.3" rx="3.4" ry="2.95"/>
<ellipse cx="961.2" cy="372.3" rx="3.4" ry="2.95"/>
<ellipse cx="1013.4" cy="372.3" rx="3.4" ry="2.95"/>
<ellipse cx="950.1" cy="383.2" rx="3.4" ry="2.95"/>
<ellipse cx="958.0" cy="381.4" rx="3.4" ry="2.95"/>
<ellipse cx="1048.0" cy="383.1" rx="3.4" ry="2.95"/>
<ellipse cx="1045.0" cy="391.3" rx="3.4" ry="2.95"/>
<ellipse cx="1042.3" cy="398.3" rx="3.4" ry="2.95"/>
<ellipse cx="1007.9" cy="388.2" rx="3.4" ry="2.95"/>
<ellipse cx="1007.0" cy="393.4" rx="3.4" ry="2.95"/>
<ellipse cx="987.8" cy="402.0" rx="3.4" ry="2.95"/>
<ellipse cx="1002.5" cy="403.6" rx="3.4" ry="2.95"/>
<ellipse cx="1000.1" cy="410.1" rx="3.4" ry="2.95"/>
<ellipse cx="981.0" cy="418.7" rx="3.4" ry="2.95"/>
<ellipse cx="1073.7" cy="413.5" rx="3.4" ry="2.95"/>
<ellipse cx="993.5" cy="428.0" rx="3.4" ry="2.95"/>
<ellipse cx="1165.2" cy="372.3" rx="3.4" ry="2.95"/>
<ellipse cx="1123.7" cy="381.0" rx="3.4" ry="2.95"/>
<ellipse cx="1122.7" cy="383.2" rx="3.4" ry="2.95"/>
<ellipse cx="1120.0" cy="393.4" rx="3.4" ry="2.95"/>
<ellipse cx="992.4" cy="430.5" rx="3.4" ry="2.95"/>
<ellipse cx="1028.9" cy="434.6" rx="3.4" ry="2.95"/>
<ellipse cx="1066.9" cy="434.6" rx="3.4" ry="2.95"/>
<ellipse cx="1103.5" cy="436.4" rx="3.4" ry="2.95"/>
<ellipse cx="1015.9" cy="469.8" rx="3.4" ry="2.95"/>
<ellipse cx="1391.1" cy="166.6" rx="3.4" ry="2.95"/>
<ellipse cx="1368.6" cy="228.6" rx="3.4" ry="2.95"/>
<ellipse cx="1579.2" cy="269.8" rx="3.4" ry="2.95"/>
<ellipse cx="1337.5" cy="310.5" rx="3.4" ry="2.95"/>
<ellipse cx="1616.7" cy="372.0" rx="3.4" ry="2.95"/>
</g>
</g>
</svg>
</body>
</html>
